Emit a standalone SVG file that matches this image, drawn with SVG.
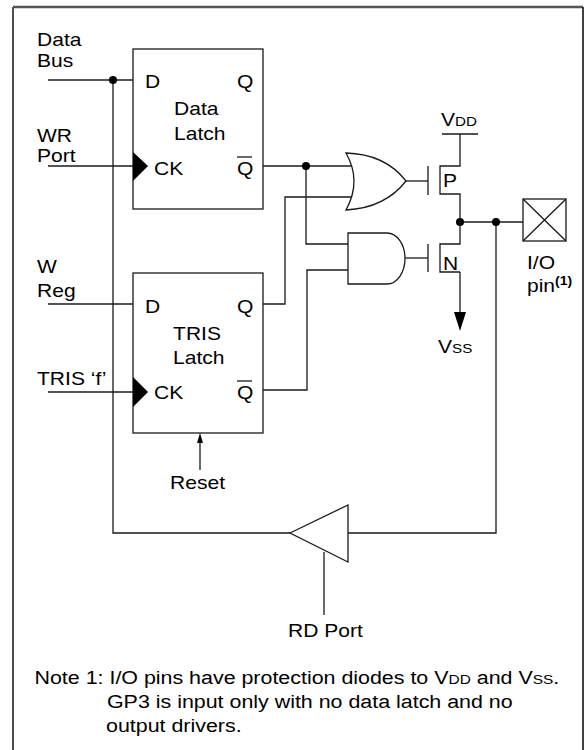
<svg xmlns="http://www.w3.org/2000/svg" width="585" height="750" viewBox="0 0 585 750">
<style>
.t{font-family:"Liberation Sans",Arial,sans-serif;font-size:18px;fill:#000}
.sc{font-size:13px}
.sup{font-size:12px;font-weight:bold}
.w{fill:none;stroke:#1a1a1a;stroke-width:1.3}
.box{fill:#fff;stroke:#1a1a1a;stroke-width:1.3}
.fill{fill:#000;stroke:none}
</style>
<rect width="585" height="750" fill="#fff"/>
<g id="frame">
<path d="M13 750 V7" stroke="#222" stroke-width="1.6" fill="none"/>
<path d="M13 7 H583" stroke="#555" stroke-width="2.5" fill="none"/>
<path d="M583 7 V750" stroke="#111" stroke-width="1.6" fill="none"/>
</g>
<g id="connectors" class="w">
<path d="M48 80 H133"/>
<path d="M113 80 V533 H290"/>
<path d="M48 166 H133"/>
<path d="M48 304 H133"/>
<path d="M48 392 H133"/>
<path d="M263 166 H352"/>
<path d="M306 166 V244 H348"/>
<path d="M263 304 H285 V197 H352"/>
<path d="M263 390 H307 V270 H348"/>
<path d="M406 181 H428"/>
<path d="M405 258 H428"/>
<path d="M460 222 H523"/>
<path d="M496 222 V533 H348"/>
<path d="M324 552 V615"/>
<path d="M200 470 V442"/>
<path d="M460 272 V313"/>
</g>
<g id="dots" class="fill">
<circle cx="113" cy="80" r="4"/>
<circle cx="306" cy="166" r="4"/>
<circle cx="460" cy="222" r="4"/>
<circle cx="496" cy="222" r="4"/>
<polygon points="197,443 203,443 200,433"/>
<polygon points="454,312 466,312 460,331"/>
</g>
<g id="labels-left">
<text class="t" transform="scale(1.17 1)" x="31.6" y="46">Data</text>
<text class="t" transform="scale(1.17 1)" x="31.6" y="67">Bus</text>
<text class="t" transform="scale(1.17 1)" x="31.6" y="142">WR</text>
<text class="t" transform="scale(1.17 1)" x="31.6" y="162">Port</text>
<text class="t" transform="scale(1.17 1)" x="31.6" y="273">W</text>
<text class="t" transform="scale(1.17 1)" x="31.6" y="297">Reg</text>
<text class="t" transform="scale(1.17 1)" x="31.6" y="385">TRIS ‘f’</text>
</g>
<g id="data-latch">
<rect class="box" x="133" y="49" width="130" height="160"/>
<polygon class="fill" points="133,152 148,166 133,181"/>
<text class="t" transform="scale(1.17 1)" x="123.9" y="88">D</text>
<text class="t" transform="scale(1.17 1)" x="202.6" y="88">Q</text>
<text class="t" transform="scale(1.17 1)" x="148.7" y="115">Data</text>
<text class="t" transform="scale(1.17 1)" x="148.7" y="140">Latch</text>
<text class="t" transform="scale(1.17 1)" x="131.6" y="175">CK</text>
<text class="t" transform="scale(1.17 1)" x="202.6" y="175">Q</text>
<line class="w" x1="237" y1="157" x2="252" y2="157"/>
</g>
<g id="tris-latch">
<rect class="box" x="133" y="273" width="130" height="160"/>
<polygon class="fill" points="133,377 148,392 133,407"/>
<text class="t" transform="scale(1.17 1)" x="123.9" y="313">D</text>
<text class="t" transform="scale(1.17 1)" x="202.6" y="313">Q</text>
<text class="t" transform="scale(1.17 1)" x="147.9" y="340">TRIS</text>
<text class="t" transform="scale(1.17 1)" x="147.9" y="364">Latch</text>
<text class="t" transform="scale(1.17 1)" x="131.6" y="399">CK</text>
<text class="t" transform="scale(1.17 1)" x="202.6" y="399">Q</text>
<line class="w" x1="237" y1="381" x2="252" y2="381"/>
</g>
<g id="reset">
<text class="t" transform="scale(1.17 1)" x="145.3" y="489">Reset</text>
</g>
<g id="or-gate">
<path class="box" d="M346 153 Q362 181 346 210 Q385 208 406 181 Q385 154 346 153 Z"/>
</g>
<g id="and-gate">
<path class="box" d="M348 233 H387 A18 25.5 0 0 1 387 284 H348 Z"/>
</g>
<g id="pmos">
<path class="w" d="M442 134 H478 M460 134 V166 H440 V194 H460 V222 M428 166 V195"/>
<text class="t" transform="scale(1.17 1)" x="376.9" y="126">V<tspan class="sc">DD</tspan></text>
<text class="t" transform="scale(1.17 1)" x="378.6" y="187">P</text>
</g>
<g id="nmos">
<path class="w" d="M460 222 V244 H440 V272 H460 M428 244 V272"/>
<text class="t" transform="scale(1.17 1)" x="378.6" y="270">N</text>
<text class="t" transform="scale(1.17 1)" x="374.4" y="353">V<tspan class="sc">SS</tspan></text>
</g>
<g id="io-pin">
<rect class="box" x="523" y="199" width="43" height="42"/>
<path class="w" d="M523 199 L566 241 M566 199 L523 241"/>
<text class="t" transform="scale(1.17 1)" x="450.4" y="269">I/O</text>
<text class="t" transform="scale(1.17 1)" x="450.4" y="292">pin<tspan class="sup" dy="-7">(1)</tspan></text>
</g>
<g id="buffer">
<polygon class="box" points="290,533 348,505 348,562"/>
<text class="t" transform="scale(1.17 1)" x="246.2" y="637">RD Port</text>
</g>
<g id="note">
<text class="t" transform="scale(1.19 1)" x="29.0" y="684">Note 1: I/O pins have protection diodes to V<tspan class="sc">DD</tspan> and V<tspan class="sc">SS</tspan>.</text>
<text class="t" transform="scale(1.19 1)" x="89.9" y="708">GP3 is input only with no data latch and no</text>
<text class="t" transform="scale(1.19 1)" x="89.1" y="732">output drivers.</text>
</g>
</svg>
